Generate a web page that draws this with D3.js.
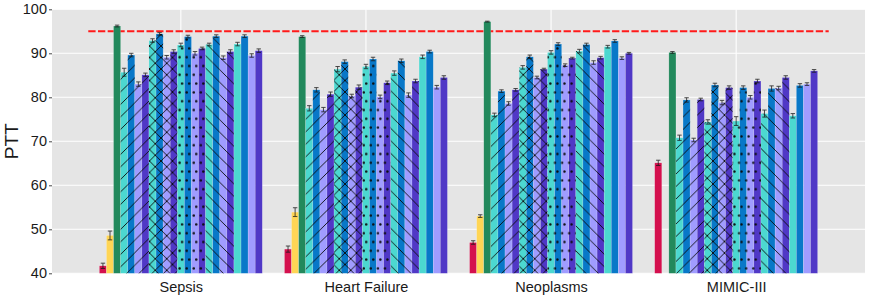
<!DOCTYPE html>
<html>
<head>
<meta charset="utf-8">
<script src="https://cdn.jsdelivr.net/npm/d3@7"></script>
<style>
  html, body { margin: 0; padding: 0; background: #ffffff; }
  svg { display: block; font-family: "Liberation Sans", Arial, sans-serif; }
</style>
</head>
<body>
<svg id="chart" width="872" height="296"></svg>
<script>
// ---------------- DATA ----------------
const categories = ["Sepsis", "Heart Failure", "Neoplasms", "MIMIC-III"];
const seriesNames = [
  "S01", "S02", "S03",
  "S04", "S05", "S06", "S07",
  "S08", "S09", "S10", "S11",
  "S12", "S13", "S14", "S15",
  "S16", "S17", "S18", "S19",
  "S20", "S21", "S22", "S23"
];
const yTicks = [40, 50, 60, 70, 80, 90, 100];
const threshold = 95;

const sepsisValues       = [41.7, 48.6, 96.2, 85.7, 89.6, 83.0, 85.1, 92.9, 94.4, 89.1, 90.4, 91.9, 93.8, 90.0, 91.1, 92.0, 93.9, 89.0, 90.4, 92.1, 93.9, 89.5, 90.6];
const sepsisErrors       = [0.6, 1.0, 0.2, 0.9, 0.4, 0.5, 0.4, 0.4, 0.3, 0.4, 0.4, 0.4, 0.3, 0.4, 0.3, 0.3, 0.3, 0.4, 0.4, 0.4, 0.3, 0.4, 0.4];
const heartFailureValues = [45.5, 53.9, 93.8, 77.5, 81.7, 77.2, 80.7, 86.4, 88.1, 80.3, 82.3, 87.0, 88.7, 80.1, 83.3, 85.5, 88.3, 80.5, 83.7, 89.2, 90.4, 82.3, 84.5];
const heartFailureErrors = [0.7, 1.0, 0.2, 0.6, 0.5, 0.5, 0.5, 0.6, 0.4, 0.4, 0.5, 0.5, 0.4, 0.4, 0.4, 0.5, 0.4, 0.5, 0.4, 0.4, 0.3, 0.4, 0.4];
const neoplasmsValues    = [47.0, 53.0, 97.2, 76.0, 81.4, 78.6, 81.7, 86.8, 89.2, 84.5, 86.4, 90.2, 92.1, 87.3, 88.9, 90.5, 92.0, 87.9, 89.0, 91.5, 92.8, 88.9, 90.0];
const neoplasmsErrors    = [0.4, 0.3, 0.1, 0.4, 0.3, 0.4, 0.3, 0.4, 0.4, 0.3, 0.2, 0.4, 0.3, 0.3, 0.2, 0.4, 0.3, 0.4, 0.3, 0.3, 0.3, 0.3, 0.2];
const mimicValues        = [65.1, null, 90.2, 70.8, 79.4, 70.3, 79.5, 74.4, 82.8, 78.8, 82.2, 74.6, 82.2, 80.0, 83.7, 76.3, 82.0, 82.1, 84.5, 75.8, 82.7, 83.0, 86.0];
const mimicErrors        = [0.6, null, 0.2, 0.6, 0.5, 0.4, 0.3, 0.5, 0.4, 0.5, 0.4, 1.0, 0.4, 0.4, 0.4, 0.8, 0.6, 0.4, 0.4, 0.5, 0.4, 0.3, 0.3];

const valuesByCategory = [sepsisValues, heartFailureValues, neoplasmsValues, mimicValues];
const errorsByCategory = [sepsisErrors, heartFailureErrors, neoplasmsErrors, mimicErrors];

// ---------------- STYLE ----------------
const C_RED = "#D4104E", C_YEL = "#FFD555", C_GRN = "#22895C",
      C_TEAL = "#4CD8D0", C_BLUE = "#0878C8", C_LAV = "#A09CFF", C_PUR = "#5038C6";
const seriesColors = [C_RED, C_YEL, C_GRN,
  C_TEAL, C_BLUE, C_LAV, C_PUR,
  C_TEAL, C_BLUE, C_LAV, C_PUR,
  C_TEAL, C_BLUE, C_LAV, C_PUR,
  C_TEAL, C_BLUE, C_LAV, C_PUR,
  C_TEAL, C_BLUE, C_LAV, C_PUR];
const seriesPatterns = ["none", "none", "none",
  "fwd", "fwd", "fwd", "fwd",
  "cross", "cross", "cross", "cross",
  "dots", "dots", "dots", "dots",
  "back", "back", "back", "back",
  "none", "none", "none", "none"];

// ---------------- LAYOUT ----------------
const svg = d3.select("#chart");
const panel = { left: 52, right: 865, top: 9.3, bottom: 273.3 };

const x = d3.scalePoint().domain(categories).range([panel.left, panel.right]).padding(0.696);
const step = x.step();
const groupWidth = step * 0.88;
const xs = d3.scaleBand().domain(seriesNames).range([-groupWidth / 2, groupWidth / 2]).paddingInner(0);
const y = d3.scaleLinear().domain([40, 100]).range([panel.bottom, panel.top]);

// patterns
const defs = svg.append("defs");
function hatch(id, dir, period) {
  const p = defs.append("pattern").attr("id", id).attr("patternUnits", "userSpaceOnUse")
    .attr("width", period).attr("height", period);
  const ln = (x1, y1, x2, y2) => p.append("line").attr("x1", x1).attr("y1", y1).attr("x2", x2).attr("y2", y2)
    .attr("stroke", "#0a0a0a").attr("stroke-width", 0.9);
  if (dir === "fwd" || dir === "cross") {
    ln(0, period, period, 0); ln(-period, period, 0, 0); ln(period, period, 2 * period, 0);
  }
  if (dir === "back" || dir === "cross") {
    ln(0, 0, period, period); ln(-period, 0, 0, period); ln(period, 0, 2 * period, period);
  }
}
hatch("pat-fwd", "fwd", 12.5);
hatch("pat-back", "back", 12.5);
hatch("pat-cross", "cross", 11.5);
{
  const bw = xs.bandwidth();
  const p = defs.append("pattern").attr("id", "pat-dots").attr("patternUnits", "userSpaceOnUse")
    .attr("width", bw).attr("height", 17.6).attr("x", x(categories[0]) - groupWidth / 2).attr("y", 0);
  p.append("circle").attr("cx", bw / 2 - 1.2).attr("cy", 4.4).attr("r", 1.2).attr("fill", "#0a0a0a");
  p.append("circle").attr("cx", bw / 2 + 1.2).attr("cy", 13.2).attr("r", 1.2).attr("fill", "#0a0a0a");
}

// panel background
svg.append("rect").attr("x", panel.left).attr("y", panel.top)
  .attr("width", panel.right - panel.left).attr("height", panel.bottom - panel.top)
  .attr("fill", "#E5E5E5");

// grid
svg.append("g").selectAll("line").data(yTicks).join("line")
  .attr("x1", panel.left).attr("x2", panel.right)
  .attr("y1", d => y(d)).attr("y2", d => y(d))
  .attr("stroke", "#ffffff").attr("stroke-width", 1.1);
svg.append("g").selectAll("line").data(categories).join("line")
  .attr("x1", d => x(d)).attr("x2", d => x(d))
  .attr("y1", panel.top).attr("y2", panel.bottom)
  .attr("stroke", "#ffffff").attr("stroke-width", 1.1);

// threshold line
svg.append("line")
  .attr("x1", x(categories[0]) - step / 2).attr("x2", x(categories[categories.length - 1]) + step / 2)
  .attr("y1", y(threshold)).attr("y2", y(threshold))
  .attr("stroke", "#FF1A1A").attr("stroke-width", 2).attr("stroke-dasharray", "7.3,2.4");

// bars
const barData = [];
categories.forEach((c, ci) => {
  seriesNames.forEach((s, si) => {
    const v = valuesByCategory[ci][si];
    if (v == null) return;
    barData.push({ c, s, si, v, e: errorsByCategory[ci][si] });
  });
});
const bx = d => x(d.c) + xs(d.s);
const gBars = svg.append("g");
gBars.selectAll("rect.fill").data(barData).join("rect").attr("class", "fill")
  .attr("x", bx).attr("width", xs.bandwidth())
  .attr("y", d => y(d.v)).attr("height", d => y(40) - y(d.v))
  .attr("fill", d => seriesColors[d.si])
  .attr("stroke", "rgba(255,255,255,0.35)").attr("stroke-width", 0.5);
gBars.selectAll("rect.pat").data(barData.filter(d => seriesPatterns[d.si] !== "none")).join("rect").attr("class", "pat")
  .attr("x", bx).attr("width", xs.bandwidth())
  .attr("y", d => y(d.v)).attr("height", d => y(40) - y(d.v))
  .attr("fill", d => `url(#pat-${seriesPatterns[d.si]})`);

// error bars
const gErr = svg.append("g").attr("stroke", "#1a1a1a").attr("stroke-width", 0.9).attr("opacity", 0.85);
const cap = 2.2;
barData.forEach(d => {
  const cx = bx(d) + xs.bandwidth() / 2;
  const y1 = y(d.v + d.e), y2 = y(d.v - d.e);
  gErr.append("line").attr("x1", cx).attr("x2", cx).attr("y1", y1).attr("y2", y2);
  gErr.append("line").attr("x1", cx - cap).attr("x2", cx + cap).attr("y1", y1).attr("y2", y1);
  gErr.append("line").attr("x1", cx - cap).attr("x2", cx + cap).attr("y1", y2).attr("y2", y2);
});

// y axis
const yAxis = d3.axisLeft(y).tickValues(yTicks).tickSize(3).tickPadding(2).tickSizeOuter(0);
const gy = svg.append("g").attr("transform", `translate(${panel.left},0)`).call(yAxis);
gy.select(".domain").remove();
gy.selectAll(".tick line").attr("stroke", "#333").attr("stroke-width", 0.9);
gy.selectAll(".tick text").attr("fill", "#1a1a1a").style("font-size", "14.5px")
  .style("font-family", "'Liberation Sans', Arial, sans-serif");

// x axis
const xAxis = d3.axisBottom(x).tickSize(0).tickPadding(8);
const gx = svg.append("g").attr("transform", `translate(0,${panel.bottom})`).call(xAxis);
gx.select(".domain").remove();
gx.selectAll(".tick text").attr("fill", "#1a1a1a").style("font-size", "14.5px")
  .style("font-family", "'Liberation Sans', Arial, sans-serif");

// y label
svg.append("text").attr("transform", `translate(18,${(panel.top + panel.bottom) / 2}) rotate(-90)`)
  .attr("text-anchor", "middle").attr("fill", "#1a1a1a")
  .style("font-size", "19px").text("PTT");
</script>
</body>
</html>
